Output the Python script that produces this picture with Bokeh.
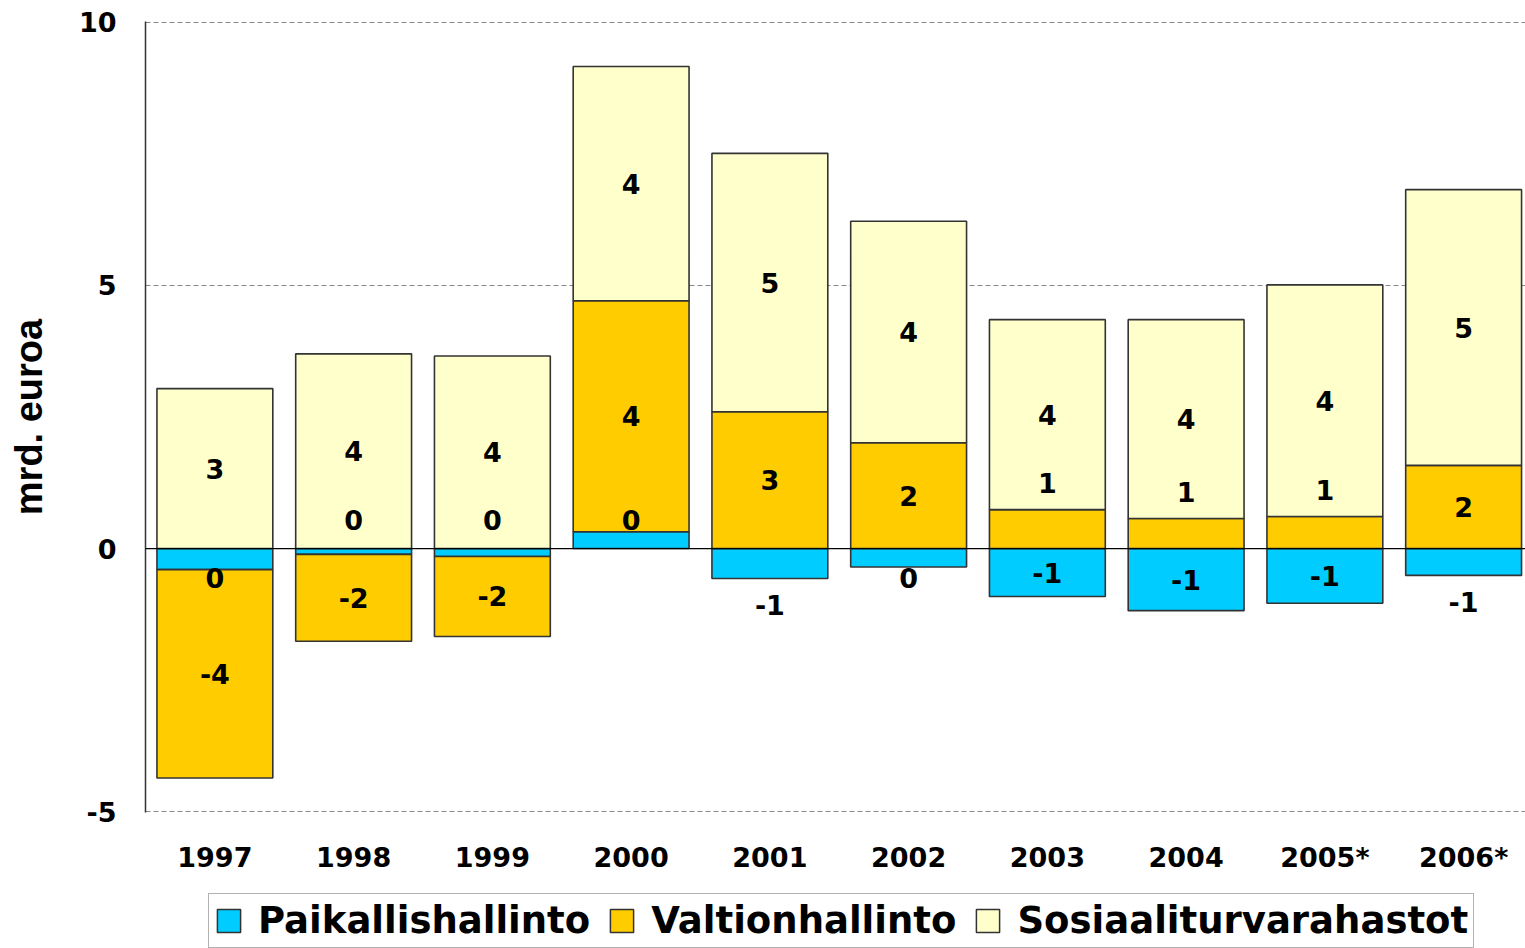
import math
from bokeh.plotting import figure
from bokeh.layouts import column
from bokeh.models import (ColumnDataSource, Range1d, FixedTicker, Span, Legend, LegendItem)
from bokeh.core.properties import value
from bokeh.embed import file_html
from bokeh.resources import INLINE

years = ["1997", "1998", "1999", "2000", "2001", "2002", "2003", "2004", "2005*", "2006*"]
series_names = ["Paikallishallinto", "Valtionhallinto", "Sosiaaliturvarahastot"]
paikallis = [-0.40, -0.11, -0.15, 0.32, -0.57, -0.35, -0.91, -1.18, -1.04, -0.51]
valtion = [-3.96, -1.65, -1.52, 4.39, 2.60, 2.01, 0.74, 0.57, 0.61, 1.58]
sosiaali = [3.04, 3.70, 3.66, 4.45, 4.91, 4.21, 3.61, 3.78, 4.40, 5.24]
colors = ["#00CCFF", "#FFCC00", "#FFFFCC"]
y_ticks = [-5, 0, 5, 10]
y_tick_labels = ["-5", "0", "5", "10"]

FONT = "DejaVu Sans"
OUTLINE = "#333333"


def fmt(v):
    n = int(math.floor(abs(v) + 0.5))
    return ("-" + str(n)) if (v < 0 and n > 0) else str(n)


p = figure(width=1525, height=885, output_backend="svg", toolbar_location=None,
           x_range=Range1d(-0.5, 9.446), y_range=Range1d(-5.015, 10.015),
           min_border_left=145, min_border_right=0, min_border_top=21, min_border_bottom=73)
p.outline_line_color = None
p.background_fill_color = "white"
p.border_fill_color = "white"

xs = list(range(len(years)))
pos_base = [0.0] * len(years)
neg_base = [0.0] * len(years)
lab_x, lab_y, lab_t = [], [], []
for vals, col in zip([paikallis, valtion, sosiaali], colors):
    bottoms, tops = [], []
    for i, v in enumerate(vals):
        start = pos_base[i] if v >= 0 else neg_base[i]
        end = start + v
        if v >= 0:
            pos_base[i] = end
        else:
            neg_base[i] = end
        bottoms.append(min(start, end))
        tops.append(max(start, end))
        mag = abs(v)
        sgn = 1 if v >= 0 else -1
        if mag < 0.45:
            ly = start + (0.55 if v > -0.25 else -0.55)
        elif mag < 0.8:
            ly = end + sgn * 0.5
        else:
            ly = (start + end) / 2
        lab_x.append(i)
        lab_y.append(ly)
        lab_t.append(fmt(v))
    src = ColumnDataSource(dict(x=xs, bottom=bottoms, top=tops))
    p.vbar(x="x", bottom="bottom", top="top", width=0.835, source=src,
           fill_color=col, line_color=OUTLINE, line_width=1.6)

zero = Span(location=0, dimension="width", line_color="black", line_width=1.2)
p.add_layout(zero)

lsrc = ColumnDataSource(dict(x=lab_x, y=lab_y, t=lab_t))
p.text(x="x", y="y", text="t", source=lsrc, text_align="center", text_baseline="middle",
       text_font=value(FONT), text_font_style="bold", text_font_size="27px", text_color="black")

# axes
p.xaxis.ticker = FixedTicker(ticks=xs)
p.xaxis.major_label_overrides = {i: y for i, y in enumerate(years)}
p.xaxis.axis_line_color = None
p.xaxis.major_tick_line_color = None
p.xaxis.minor_tick_line_color = None
p.xaxis.major_label_standoff = 23
p.xaxis.major_label_text_font = FONT
p.xaxis.major_label_text_font_style = "bold"
p.xaxis.major_label_text_font_size = "27px"
p.xaxis.major_label_text_color = "black"

p.yaxis.ticker = FixedTicker(ticks=y_ticks)
p.yaxis.major_label_overrides = {t: s for t, s in zip(y_ticks, y_tick_labels)}
p.yaxis.axis_line_color = OUTLINE
p.yaxis.axis_line_width = 1.5
p.yaxis.major_tick_line_color = None
p.yaxis.minor_tick_line_color = None
p.yaxis.major_label_standoff = 23
p.yaxis.major_label_text_font = FONT
p.yaxis.major_label_text_font_style = "bold"
p.yaxis.major_label_text_font_size = "27px"
p.yaxis.major_label_text_color = "black"
p.yaxis.axis_label = "mrd. euroa"
p.yaxis.axis_label_text_font = "Liberation Sans"
p.yaxis.axis_label_text_font_style = "bold"
p.yaxis.axis_label_text_font_size = "38px"
p.yaxis.axis_label_standoff = 26
p.yaxis.axis_label_text_color = "black"

p.xgrid.grid_line_color = None
p.ygrid.ticker = FixedTicker(ticks=y_ticks)
p.ygrid.grid_line_color = "#888888"
p.ygrid.grid_line_dash = "5 3"
p.ygrid.grid_line_width = 1

# legend strip below the chart (its frame is aligned with the chart frame)
lg = figure(width=1525, height=63, output_backend="svg", toolbar_location=None,
            x_range=Range1d(0, 1), y_range=Range1d(0, 1),
            x_axis_type=None, y_axis_type=None, min_border=0)
lg.outline_line_color = None
lg.grid.visible = False
lg.background_fill_color = "white"
lg.border_fill_color = "white"
swatches = []
for col in colors:
    ssrc = ColumnDataSource(dict(x=[float("nan")], top=[float("nan")]))
    swatches.append(lg.vbar(x="x", top="top", width=0.5, source=ssrc, fill_color=col,
                            line_color=OUTLINE, line_width=1.5))
items = [LegendItem(label=n, renderers=[r]) for n, r in zip(series_names, swatches)]
legend = Legend(items=items, orientation="horizontal", location=(63, 0))
legend.label_text_font = FONT
legend.label_text_font_style = "bold"
legend.label_text_font_size = "37px"
legend.label_text_color = "black"
legend.glyph_width = 29
legend.glyph_height = 29
legend.label_standoff = 15
legend.spacing = 17
legend.padding = 5
legend.margin = 0
legend.border_line_color = "#666666"
legend.border_line_width = 1.5
legend.background_fill_color = "white"
legend.background_fill_alpha = 1
lg.add_layout(legend, "center")

layout = column(p, lg, spacing=0)
open("out.html", "w").write(file_html(layout, INLINE))
